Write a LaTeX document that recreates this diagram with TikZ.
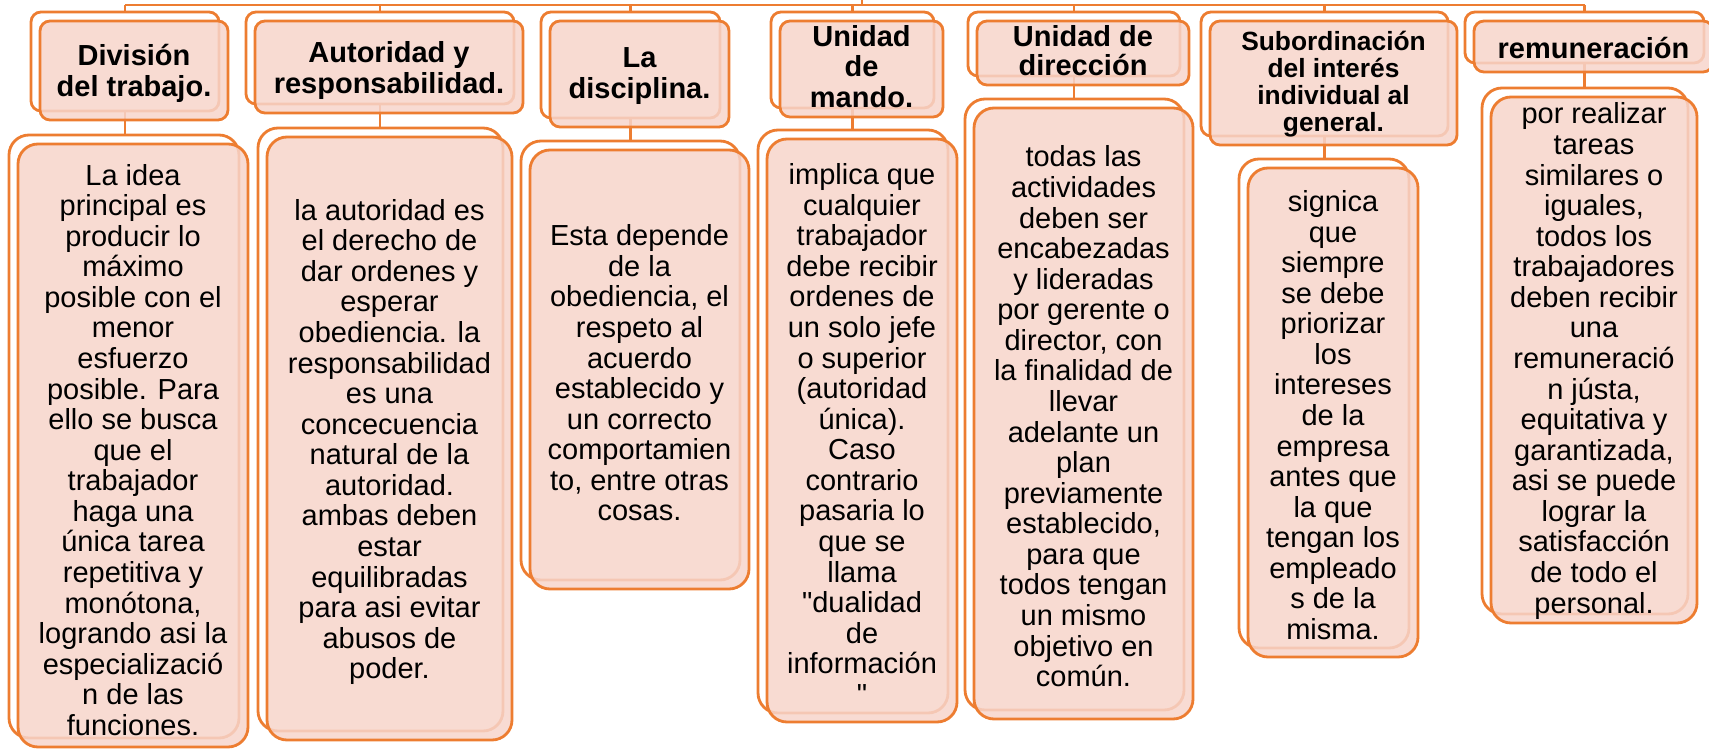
\documentclass[tikz,border=0pt]{standalone}
\usepackage{fontspec}
\setmainfont{Liberation Sans}[Ligatures=TeXOff]
\usetikzlibrary{fit,backgrounds}
\definecolor{boxline}{HTML}{ED7D31}
\definecolor{boxfill}{HTML}{F7D5CB}
\tikzset{
  frontbox/.style={draw=boxline, line width=1.6pt, fill=boxfill, fill opacity=0.85, inner sep=0pt, outer sep=0pt},
  headbox/.style={frontbox, rounded corners=0.2cm},
  textbox/.style={frontbox, rounded corners=0.4cm},
  headtext/.style={align=center, inner sep=0pt, font=\fontsize{16.5}{17.5}\selectfont\bfseries},
  bodytext/.style={align=center, inner sep=0pt, font=\fontsize{16.5}{17.4}\selectfont},
  backbox/.style={draw=boxline, line width=1.6pt, fill=white, inner sep=0pt, outer sep=0pt},
  link/.style={draw=boxline, line width=1.6pt}
}
\begin{document}
\begin{tikzpicture}[x=0.02cm, y=-0.02cm]
\useasboundingbox (0,0) rectangle (1709,749);
% titulos
\node[headbox, fit={(40,21) (228,120)}] (h1) {};
\node[headbox, fit={(255,21) (523,113)}] (h2) {};
\node[headbox, fit={(550,21) (729,127)}] (h3) {};
\node[headbox, fit={(780,21) (943,117)}] (h4) {};
\node[headbox, fit={(977,21) (1189,85)}] (h5) {};
\node[headbox, fit={(1210,21) (1457,145)}] (h6) {};
\node[headbox, fit={(1474,21) (1713,72)}] (h7) {};
\node[headtext] (th1) at ([yshift=-1.6pt]h1.center) {División\\del trabajo.};
\node[headtext] (th2) at ([yshift=-1.9pt]h2.center) {Autoridad y\\responsabilidad.};
\node[headtext, font=\fontsize{16.5}{18}\selectfont\bfseries] (th3) at ([yshift=-1.2pt]h3.center) {La\\disciplina.};
\node[headtext] (th4) at ([yshift=1.4pt]h4.center) {Unidad\\de\\mando.};
\node[headtext, font=\fontsize{16.5}{16.5}\selectfont\bfseries] (th5) at ([yshift=1.4pt]h5.center) {Unidad de\\dirección};
\node[headtext, font=\fontsize{15}{15.3}\selectfont\bfseries] (th6) at ([yshift=-0.6pt]h6.center) {Subordinación\\del interés\\individual al\\general.};
\node[headtext] (th7) at ([yshift=-0.6pt]h7.center) {remuneración};
% textos
\node[textbox, fit={(18,144) (248,747)}] (d1) {};
\node[textbox, fit={(267,137) (512,740)}] (d2) {};
\node[textbox, fit={(530,150) (749,589)}] (d3) {};
\node[textbox, fit={(767,139) (957,722)}] (d4) {};
\node[textbox, fit={(974,108) (1193,719)}] (d5) {};
\node[textbox, fit={(1248,168) (1418,657)}] (d6) {};
\node[textbox, fit={(1491,97) (1697,623)}] (d7) {};
\node[bodytext] (td1) at ([yshift=-2.5pt]d1.center) {La idea\\principal es\\producir lo\\máximo\\posible con el\\menor\\esfuerzo\\posible. Para\\ello se busca\\que el\\trabajador\\haga una\\única tarea\\repetitiva y\\monótona,\\logrando asi la\\especializació\\n de las\\funciones.};
\node[bodytext] (td2) at ([yshift=-2pt]d2.center) {la autoridad es\\el derecho de\\dar ordenes y\\esperar\\obediencia. la\\responsabilidad\\es una\\concecuencia\\natural de la\\autoridad.\\ambas deben\\estar\\equilibradas\\para asi evitar\\abusos de\\poder.};
\node[bodytext] (td3) at ([yshift=-2pt]d3.center) {Esta depende\\de la\\obediencia, el\\respeto al\\acuerdo\\establecido y\\un correcto\\comportamien\\to, entre otras\\cosas.};
\node[bodytext] (td4) at ([yshift=-2pt]d4.center) {implica que\\cualquier\\trabajador\\debe recibir\\ordenes de\\un solo jefe\\o superior\\(autoridad\\única).\\Caso\\contrario\\pasaria lo\\que se\\llama\\"dualidad\\de\\información\\"};
\node[bodytext] (td5) at ([yshift=-1.7pt]d5.center) {todas las\\actividades\\deben ser\\encabezadas\\y lideradas\\por gerente o\\director, con\\la finalidad de\\llevar\\adelante un\\plan\\previamente\\establecido,\\para que\\todos tengan\\un mismo\\objetivo en\\común.};
\node[bodytext] (td6) at ([yshift=-1.5pt]d6.center) {signica\\que\\siempre\\se debe\\priorizar\\los\\intereses\\de la\\empresa\\antes que\\la que\\tengan los\\empleado\\s de la\\misma.};
\node[bodytext] (td7) at ([yshift=-0.6pt]d7.center) {por realizar\\tareas\\similares o\\iguales,\\todos los\\trabajadores\\deben recibir\\una\\remuneració\\n jústa,\\equitativa y\\garantizada,\\asi se puede\\lograr la\\satisfacción\\de todo el\\personal.};
\begin{scope}[on background layer]
  % cajas de atras
  \foreach \n in {h1,h2,h3,h4,h5,h6,h7}
    \node[backbox, rounded corners=0.2cm, fit={([shift={(-9,-9)}]\n.north west) ([shift={(-9,-9)}]\n.south east)}] (b\n) {};
  \foreach \n in {d1,d2,d3,d4,d5,d6,d7}
    \node[backbox, rounded corners=0.4cm, fit={([shift={(-9,-9)}]\n.north west) ([shift={(-9,-9)}]\n.south east)}] (b\n) {};
  % conectores
  \coordinate (bus) at (862,5);
  \coordinate (root) at (862,0);
  \draw[link] (bus) -- (root);
  \draw[link] (bh1.north |- bus) -- (bh7.north |- bus);
  \foreach \i in {1,...,7} {
    \draw[link] (bh\i.north) -- (bh\i.north |- bus);
    \draw[link] (bh\i.south) -- (bh\i.south |- bd\i.north);
  }
\end{scope}
\end{tikzpicture}
\end{document}
